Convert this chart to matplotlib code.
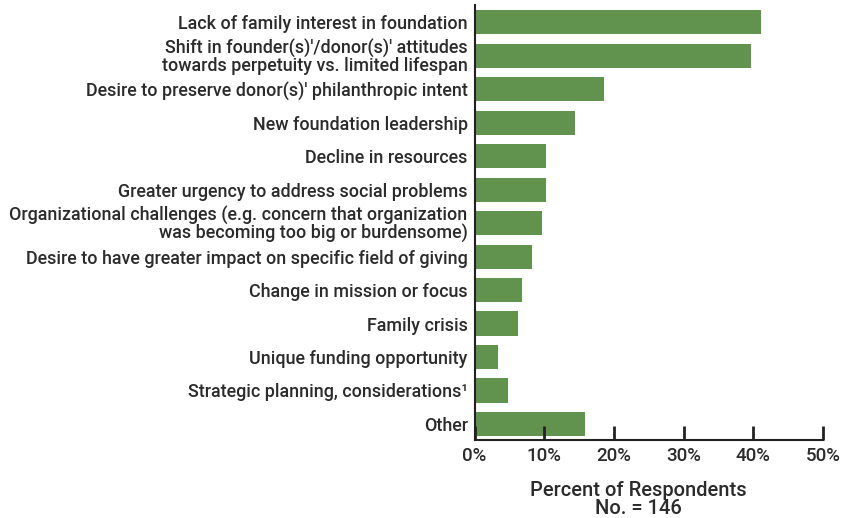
import matplotlib.pyplot as plt

plt.rcParams['font.family'] = ['Roboto', 'DejaVu Sans']

reasons = [
    'Lack of family interest in foundation',
    "Shift in founder(s)'/donor(s)' attitudes\ntowards perpetuity vs. limited lifespan",
    "Desire to preserve donor(s)' philanthropic intent",
    'New foundation leadership',
    'Decline in resources',
    'Greater urgency to address social problems',
    'Organizational challenges (e.g. concern that organization\nwas becoming too big or burdensome)',
    'Desire to have greater impact on specific field of giving',
    'Change in mission or focus',
    'Family crisis',
    'Unique funding opportunity',
    'Strategic planning, considerations\u00b9',
    'Other',
]
percents = [41.2, 39.7, 18.6, 14.4, 10.3, 10.3, 9.7, 8.3, 6.8, 6.2, 3.4, 4.8, 15.9]
xticks = [0, 10, 20, 30, 40, 50]
xticklabels = ['0%', '10%', '20%', '30%', '40%', '50%']

text_color = '#2b2b2b'
bar_color = '#61934F'

fig = plt.figure(figsize=(8.43, 5.18), dpi=100)
ax = fig.add_axes([0.563, 0.1506, 0.413, 0.8394])

ypos = list(range(len(reasons)))
ax.barh(ypos, percents, height=0.72, color=bar_color)

ax.set_xlim(0, 50)
ax.set_ylim(12.478, -0.507)
ax.set_yticks(ypos)
ax.set_yticklabels(reasons, fontsize=12.9, fontweight='medium', color=text_color,
                   linespacing=0.95)
ax.set_xticks(xticks)
ax.set_xticklabels(xticklabels, fontsize=13.5, fontweight='medium', color=text_color)

ax.tick_params(axis='y', length=0, pad=5)
ax.tick_params(axis='x', direction='in', length=10, width=2, color='#222222', pad=5)

for s in ['top', 'right']:
    ax.spines[s].set_visible(False)
ax.spines['left'].set_color('#222222')
ax.spines['left'].set_linewidth(1.5)
ax.spines['bottom'].set_color('#222222')
ax.spines['bottom'].set_linewidth(1.5)

fig.text(638 / 843, 1 - 490 / 518, 'Percent of Respondents', ha='center', va='center',
         fontsize=14.5, fontweight='medium', color=text_color)
fig.text(638 / 843, 1 - 508 / 518, 'No. = 146', ha='center', va='center',
         fontsize=14.5, fontweight='medium', color=text_color)

fig.savefig('out.png', dpi=100)
